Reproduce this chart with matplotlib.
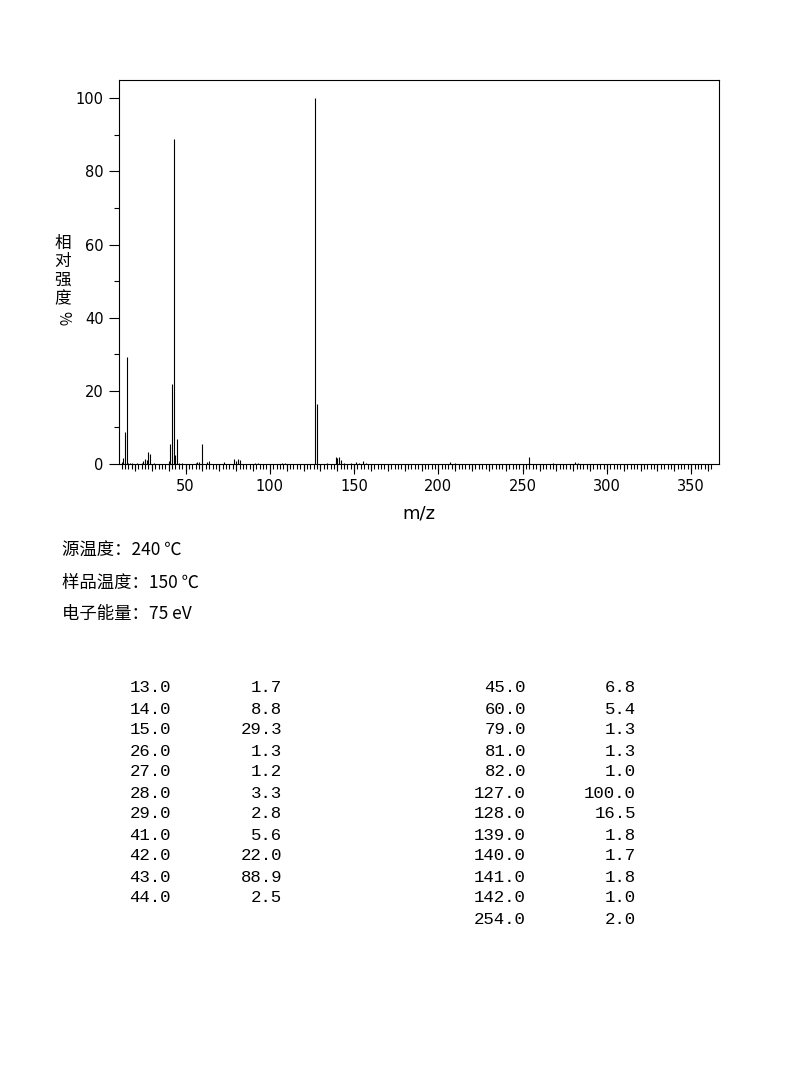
import numpy as np
import matplotlib
matplotlib.use("Agg")
import matplotlib.pyplot as plt
from matplotlib.ticker import FixedLocator, NullFormatter

# main peaks (the ones listed in the table)
main_mz = [13, 14, 15, 26, 27, 28, 29, 41, 42, 43, 44,
           45, 60, 79, 81, 82, 127, 128, 139, 140, 141, 142, 254]
main_int = [1.7, 8.8, 29.3, 1.3, 1.2, 3.3, 2.8, 5.6, 22.0, 88.9, 2.5,
            6.8, 5.4, 1.3, 1.3, 1.0, 100.0, 16.5, 1.8, 1.7, 1.8, 1.0, 2.0]

# small peaks (< 1 %)
minor_mz = [12, 16, 17, 18, 21, 24, 25, 31, 40, 46, 48, 56, 57, 58, 63, 64,
            73, 80, 91, 93, 107, 109, 134, 144, 148, 151, 153, 155, 157,
            207, 210, 268, 281, 283]
minor_int = [0.5, 0.4, 0.3, 0.3, 0.3, 0.4, 0.8, 0.3, 0.8, 0.3, 0.3, 0.3, 0.5,
             0.5, 0.6, 0.8, 0.5, 0.7, 0.3, 0.3, 0.3, 0.3, 0.3, 0.3, 0.3, 0.5,
             0.4, 0.8, 0.3, 0.5, 0.3, 0.3, 0.6, 0.3]

info_lines = ["源温度：240 ℃", "样品温度：150 ℃", "电子能量：75 eV"]
ylabel_chars = ["相", "对", "强", "度"]

W, H = 794, 1077
fig = plt.figure(figsize=(W / 100, H / 100), dpi=100)
ax = fig.add_axes([119 / W, 1 - 464 / H, 600 / W, 384 / H])

all_mz = main_mz + minor_mz
all_int = main_int + minor_int
ax.vlines(all_mz, 0, all_int, color="black", linewidth=0.8)

ax.set_xlim(10.5, 366.5)
ax.set_ylim(0, 105)

for s in ax.spines.values():
    s.set_linewidth(0.8)

ax.xaxis.set_major_locator(FixedLocator(np.arange(50, 351, 50)))
ax.xaxis.set_minor_locator(FixedLocator(np.arange(12, 363, 2)))
ax.yaxis.set_major_locator(FixedLocator(np.arange(0, 101, 20)))
ax.yaxis.set_minor_locator(FixedLocator(np.arange(10, 100, 20)))
ax.tick_params(axis="both", which="major", length=7, width=0.8,
               labelsize=10.5, direction="out")
ax.tick_params(axis="both", which="minor", length=3.5, width=0.8,
               direction="out")
ax.tick_params(axis="x", which="major", pad=4)
ax.tick_params(axis="y", which="major", pad=4)

# medium ticks every 10
sec = ax.secondary_xaxis("bottom")
sec.xaxis.set_major_locator(FixedLocator(np.arange(20, 361, 10)))
sec.xaxis.set_major_formatter(NullFormatter())
sec.tick_params(length=5, width=0.8)
sec.spines["bottom"].set_visible(False)

ax.set_xlabel("m/z", fontsize=13, labelpad=7)

cjk = ["Noto Sans CJK SC", "DejaVu Sans"]

# stacked vertical y label
for i, ch in enumerate(ylabel_chars):
    fig.text(63 / W, 1 - (243 + 18.5 * i) / H, ch, family=cjk, fontsize=12,
             ha="center", va="center")
fig.text(63 / W, 1 - 318 / H, "%", family=cjk, fontsize=11, rotation=-90,
         ha="center", va="center")

for i, line in enumerate(info_lines):
    fig.text(62 / W, 1 - (551 + 31.5 * i) / H, line, family=cjk,
             fontsize=12.5, ha="left", va="center")

# peak table
n_left = 11
mono = "Liberation Mono"
for i, (m, v) in enumerate(zip(main_mz, main_int)):
    if i < n_left:
        row, xm, xv = i, 171, 282
    else:
        row, xm, xv = i - n_left, 526, 636
    y = 1 - (688 + 21 * row) / H
    fig.text(xm / W, y, f"{m:.1f}", family=mono, fontsize=12.5,
             ha="right", va="center")
    fig.text(xv / W, y, f"{v:.1f}", family=mono, fontsize=12.5,
             ha="right", va="center")

fig.savefig("out.png", dpi=100)
